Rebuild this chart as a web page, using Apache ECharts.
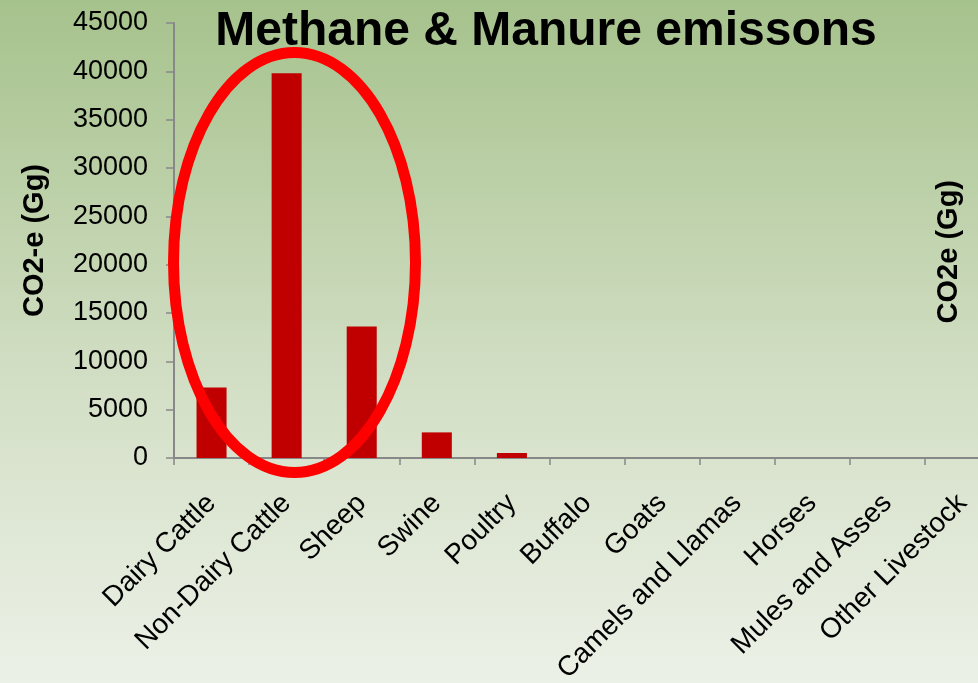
<!DOCTYPE html>
<html>
<head>
<meta charset="utf-8">
<script src="https://cdn.jsdelivr.net/npm/echarts@6/dist/echarts.min.js"></script>
<style>
  html, body { margin: 0; padding: 0; }
  #chart { width: 978px; height: 683px; }
</style>
</head>
<body>
<div id="chart"></div>
<script>
const categories = ['Dairy Cattle', 'Non-Dairy Cattle', 'Sheep', 'Swine', 'Poultry', 'Buffalo',
  'Goats', 'Camels and Llamas', 'Horses', 'Mules and Asses', 'Other Livestock']
const emissions = [7300, 39800, 13600, 2650, 520, 0, 0, 0, 0, 0, 0]

const chart = echarts.init(document.getElementById('chart'))

const option = {
  backgroundColor: {
    type: 'linear', x: 0, y: 0, x2: 0, y2: 1,
    colorStops: [
      { offset: 0, color: '#a6c28c' },
      { offset: 0.55, color: '#d2dec4' },
      { offset: 1, color: '#ecf1e7' }
    ]
  },
  textStyle: { fontFamily: 'Liberation Sans, Arial, sans-serif' },
  title: {
    text: 'Methane & Manure emissons',
    left: 541,
    top: 3,
    textAlign: 'center',
    textStyle: { fontSize: 48, fontWeight: 'bold', color: '#000' }
  },
  grid: { left: 174, right: -22, top: 23, bottom: 225, outerBoundsMode: 'none' },
  xAxis: {
    type: 'category',
    data: categories,
    axisLine: { lineStyle: { color: '#888', width: 2 } },
    axisTick: { show: true, length: 7, lineStyle: { color: '#888', width: 1.5 } },
    axisLabel: { rotate: 45, margin: 41, fontSize: 28, color: '#000', interval: 0 }
  },
  yAxis: {
    type: 'value',
    min: 0,
    max: 45000,
    interval: 5000,
    name: 'CO2-e (Gg)',
    nameLocation: 'middle',
    nameGap: 125,
    nameTextStyle: { fontSize: 29, fontWeight: 'bold', color: '#000' },
    axisLine: { show: true, lineStyle: { color: '#888', width: 2 } },
    axisTick: { show: true, length: 8, lineStyle: { color: '#888', width: 1.5 } },
    axisLabel: { fontSize: 27, color: '#000', margin: 26, formatter: v => String(v) },
    splitLine: { show: false }
  },
  series: [{
    type: 'bar',
    data: emissions,
    barWidth: '40%',
    itemStyle: { color: '#c00000' }
  }],
  graphic: [
    {
      type: 'text',
      left: 934,
      top: 180,
      rotation: Math.PI / 2,
      style: {
        text: 'CO2e (Gg)',
        font: 'bold 29px Liberation Sans, Arial, sans-serif',
        fill: '#000'
      }
    },
    {
      type: 'ellipse',
      shape: { cx: 294.5, cy: 262.5, rx: 121, ry: 210 },
      style: { fill: 'none', stroke: '#ff0000', lineWidth: 11 },
      z: 100
    }
  ]
}

chart.setOption(option)
</script>
</body>
</html>
